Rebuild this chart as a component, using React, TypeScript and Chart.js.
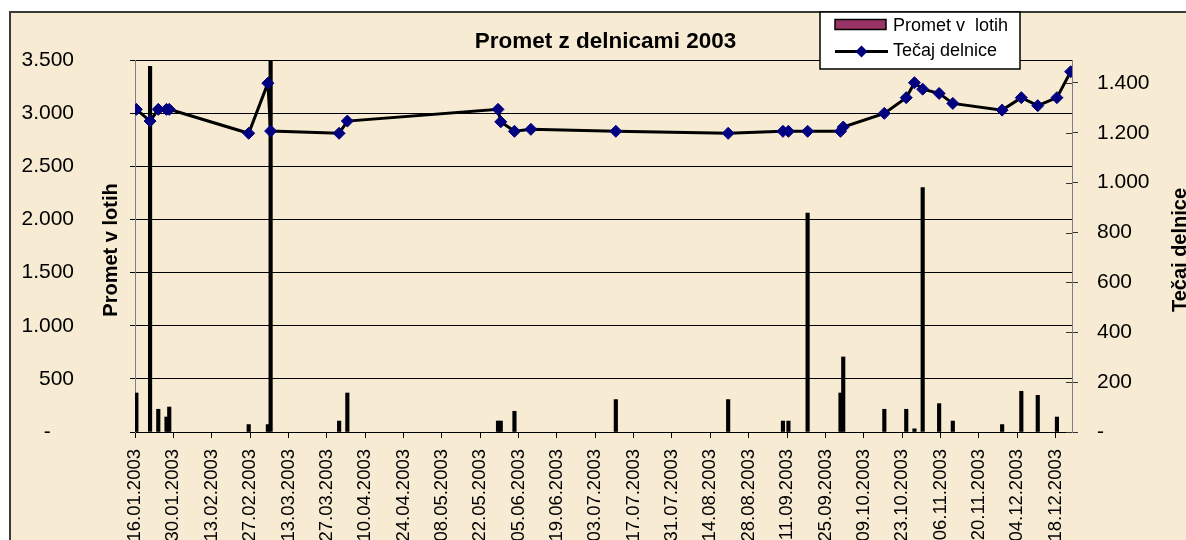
import React, { useEffect, useRef } from 'react';
import { Chart, registerables } from 'chart.js';

Chart.register(...registerables);

const FONT = "'Liberation Sans', Arial, sans-serif";

// Axis start date (first trade)
const startDate = '16.01.2003';

// Trading dates
const tradeDates = [
  '16.01.2003', '21.01.2003', '24.01.2003', '27.01.2003', '28.01.2003',
  '26.02.2003', '05.03.2003', '06.03.2003', '31.03.2003', '03.04.2003',
  '28.05.2003', '29.05.2003', '03.06.2003', '09.06.2003', '10.07.2003',
  '20.08.2003', '09.09.2003', '11.09.2003', '18.09.2003', '30.09.2003',
  '01.10.2003', '16.10.2003', '24.10.2003', '27.10.2003', '30.10.2003',
  '05.11.2003', '10.11.2003', '28.11.2003', '05.12.2003', '11.12.2003',
  '18.12.2003', '23.12.2003',
];

// Promet v lotih (left axis, bars); null = no visible bar
const volumeLots: (number | null)[] = [
  367, 3440, 214, 141, 235,
  70, 70, 4000, 103, 367,
  103, 103, 195, null, 305,
  305, 103, 103, 2060, 367,
  706, 214, 214, 30, 2300,
  267, 103, 70, 383, 345,
  141, null,
];

// Tečaj delnice (right axis, line)
const sharePrice = [
  1294, 1247, 1294, 1294, 1294,
  1198, 1399, 1207, 1198, 1247,
  1294, 1244, 1206, 1214, 1206,
  1198, 1206, 1206, 1206, 1206,
  1223, 1278, 1341, 1401, 1375,
  1358, 1318, 1291, 1341, 1309,
  1341, 1445,
];

// Tick labels
const xTickLabels = [
  '16.01.2003', '30.01.2003', '13.02.2003', '27.02.2003', '13.03.2003',
  '27.03.2003', '10.04.2003', '24.04.2003', '08.05.2003', '22.05.2003',
  '05.06.2003', '19.06.2003', '03.07.2003', '17.07.2003', '31.07.2003',
  '14.08.2003', '28.08.2003', '11.09.2003', '25.09.2003', '09.10.2003',
  '23.10.2003', '06.11.2003', '20.11.2003', '04.12.2003', '18.12.2003',
];
const leftTicks = [0, 500, 1000, 1500, 2000, 2500, 3000, 3500];
const rightTicks = [0, 200, 400, 600, 800, 1000, 1200, 1400];

const LEFT_MAX = 3500;
const RIGHT_MAX = 1492;
const X_DAYS = 342;

function toUTC(s: string) {
  const [d, m, y] = s.split('.').map(Number);
  return Date.UTC(y, m - 1, d);
}
function dayIndex(s: string) {
  return Math.round((toUTC(s) - toUTC(startDate)) / 86400000);
}
function fmt(v: number) {
  return String(Math.round(v)).replace(/\B(?=(\d{3})+(?!\d))/g, '.');
}

const xTickValues = xTickLabels.map(dayIndex);

const decorPlugin = {
  id: 'decor',
  beforeDraw(chart: any) {
    const ctx = chart.ctx;
    const w = chart.width;
    const h = chart.height;
    ctx.save();
    ctx.fillStyle = '#ffffff';
    ctx.fillRect(0, 0, w, h);
    ctx.fillStyle = '#f7ebd3';
    ctx.fillRect(10, 12, w - 10, h - 12);
    ctx.strokeStyle = '#3a3a3a';
    ctx.lineWidth = 2;
    ctx.beginPath();
    ctx.moveTo(10, h);
    ctx.lineTo(10, 12);
    ctx.lineTo(w, 12);
    ctx.stroke();
    ctx.restore();
  },
  afterDraw(chart: any) {
    const ctx = chart.ctx;
    const area = chart.chartArea;
    const y1 = chart.scales.y1;
    ctx.save();
    // inner tick marks on the right axis
    ctx.strokeStyle = '#333';
    ctx.lineWidth = 1;
    rightTicks.forEach((v) => {
      const y = Math.round(y1.getPixelForValue(v)) + 0.5;
      ctx.beginPath();
      ctx.moveTo(area.right - 6, y);
      ctx.lineTo(area.right, y);
      ctx.stroke();
    });

    // title
    ctx.fillStyle = '#000';
    ctx.font = `bold 22.5px ${FONT}`;
    ctx.textAlign = 'center';
    ctx.textBaseline = 'alphabetic';
    ctx.fillText('Promet z delnicami 2003', (area.left + area.right) / 2 + 2, 48);

    // axis titles
    const midY = (area.top + area.bottom) / 2 + 4;
    ctx.font = `bold 20px ${FONT}`;
    ctx.save();
    ctx.translate(117, midY);
    ctx.rotate(-Math.PI / 2);
    ctx.fillText('Promet v lotih', 0, 0);
    ctx.restore();
    ctx.save();
    ctx.translate(1186, midY);
    ctx.rotate(-Math.PI / 2);
    ctx.fillText('Tečaj delnice', 0, 0);
    ctx.restore();

    // legend
    ctx.fillStyle = '#ffffff';
    ctx.fillRect(820, 12, 200, 57);
    ctx.strokeStyle = '#000';
    ctx.lineWidth = 1.5;
    ctx.strokeRect(820, 12, 200, 57);
    ctx.fillStyle = '#993366';
    ctx.fillRect(835, 19.5, 51, 10);
    ctx.strokeStyle = '#000';
    ctx.lineWidth = 1.5;
    ctx.strokeRect(835, 19.5, 51, 10);
    ctx.beginPath();
    ctx.lineWidth = 3;
    ctx.moveTo(835, 51.5);
    ctx.lineTo(888, 51.5);
    ctx.stroke();
    ctx.fillStyle = '#000080';
    ctx.beginPath();
    ctx.moveTo(861.5, 45.5);
    ctx.lineTo(867.5, 51.5);
    ctx.lineTo(861.5, 57.5);
    ctx.lineTo(855.5, 51.5);
    ctx.closePath();
    ctx.fill();
    ctx.fillStyle = '#000';
    ctx.font = `18px ${FONT}`;
    ctx.textAlign = 'left';
    ctx.fillText('Promet v  lotih', 893, 30.5);
    ctx.fillText('Tečaj delnice', 893, 55.5);
    ctx.restore();
  },
};

export default function App() {
  const ref = useRef<HTMLCanvasElement | null>(null);

  useEffect(() => {
    if (!ref.current) return;
    Chart.defaults.font.family = FONT;
    const barData = tradeDates.map((d, i) => ({ x: dayIndex(d) + 0.5, y: volumeLots[i] }));
    const lineData = tradeDates.map((d, i) => ({ x: dayIndex(d) + 0.5, y: sharePrice[i] }));
    const tickFont = { family: FONT, size: 21 };

    const chart = new Chart(ref.current, {
      type: 'bar',
      data: {
        datasets: [
          {
            type: 'bar',
            label: 'Promet v  lotih',
            data: barData,
            backgroundColor: '#000000',
            borderWidth: 0,
            barThickness: 3.5,
            yAxisID: 'y',
            xAxisID: 'x',
            order: 2,
            clip: 0,
          } as any,
          {
            type: 'line',
            label: 'Tečaj delnice',
            data: lineData,
            borderColor: '#000000',
            borderWidth: 3,
            tension: 0,
            pointStyle: 'rectRot',
            pointRadius: 6,
            pointBackgroundColor: '#000080',
            pointBorderColor: '#000080',
            pointBorderWidth: 1,
            yAxisID: 'y1',
            xAxisID: 'x',
            order: 1,
          } as any,
        ],
      },
      options: {
        animation: false,
        responsive: false,
        events: [],
        layout: { padding: { top: 60, left: 0, right: 0, bottom: 0 } },
        plugins: {
          legend: { display: false },
          title: { display: false },
          tooltip: { enabled: false },
        },
        scales: {
          x: {
            type: 'linear',
            position: 'bottom',
            min: 0,
            max: X_DAYS,
            offset: false,
            afterBuildTicks: (s: any) => {
              s.ticks = xTickValues.map((v) => ({ value: v }));
            },
            afterFit: (s: any) => {
              s.height = 108;
            },
            ticks: {
              autoSkip: false,
              minRotation: 90,
              maxRotation: 90,
              padding: 11,
              color: '#000',
              font: { family: FONT, size: 18.5 },
              callback: (_v: any, i: number) => xTickLabels[i],
            },
            grid: {
              offset: false,
              drawOnChartArea: false,
              drawTicks: true,
              tickLength: 6,
              color: '#000',
              lineWidth: 1,
            },
            border: { display: true, color: '#000', width: 1 },
          } as any,
          y: {
            type: 'linear',
            position: 'left',
            min: 0,
            max: LEFT_MAX,
            afterBuildTicks: (s: any) => {
              s.ticks = leftTicks.map((v) => ({ value: v }));
            },
            afterFit: (s: any) => {
              s.width = 135;
              s.paddingTop = 0;
              s.paddingBottom = 0;
            },
            ticks: {
              padding: 56,
              color: '#000',
              font: tickFont,
              callback: (v: any) => (Number(v) === 0 ? '-    ' : fmt(Number(v))),
            },
            grid: { color: '#000', lineWidth: 1, tickLength: 5, drawTicks: true },
            border: { display: true, color: '#808080', width: 1 },
          } as any,
          y1: {
            type: 'linear',
            position: 'right',
            min: 0,
            max: RIGHT_MAX,
            afterBuildTicks: (s: any) => {
              s.ticks = rightTicks.map((v) => ({ value: v }));
            },
            afterFit: (s: any) => {
              s.width = 114;
              s.paddingTop = 0;
              s.paddingBottom = 0;
            },
            ticks: {
              padding: 19,
              color: '#000',
              font: tickFont,
              callback: (v: any) => (Number(v) === 0 ? '-' : fmt(Number(v))),
            },
            grid: { drawOnChartArea: false, color: '#333', lineWidth: 1, tickLength: 6, drawTicks: true },
            border: { display: true, color: '#808080', width: 1 },
          } as any,
        },
      },
      plugins: [decorPlugin],
    });
    return () => chart.destroy();
  }, []);

  return (
    <div
      style={{
        position: 'fixed',
        left: 0,
        top: 0,
        width: 1186,
        height: 540,
        overflow: 'hidden',
        background: '#fff',
      }}
    >
      <canvas ref={ref} width={1186} height={540} style={{ display: 'block' }} />
    </div>
  );
}
